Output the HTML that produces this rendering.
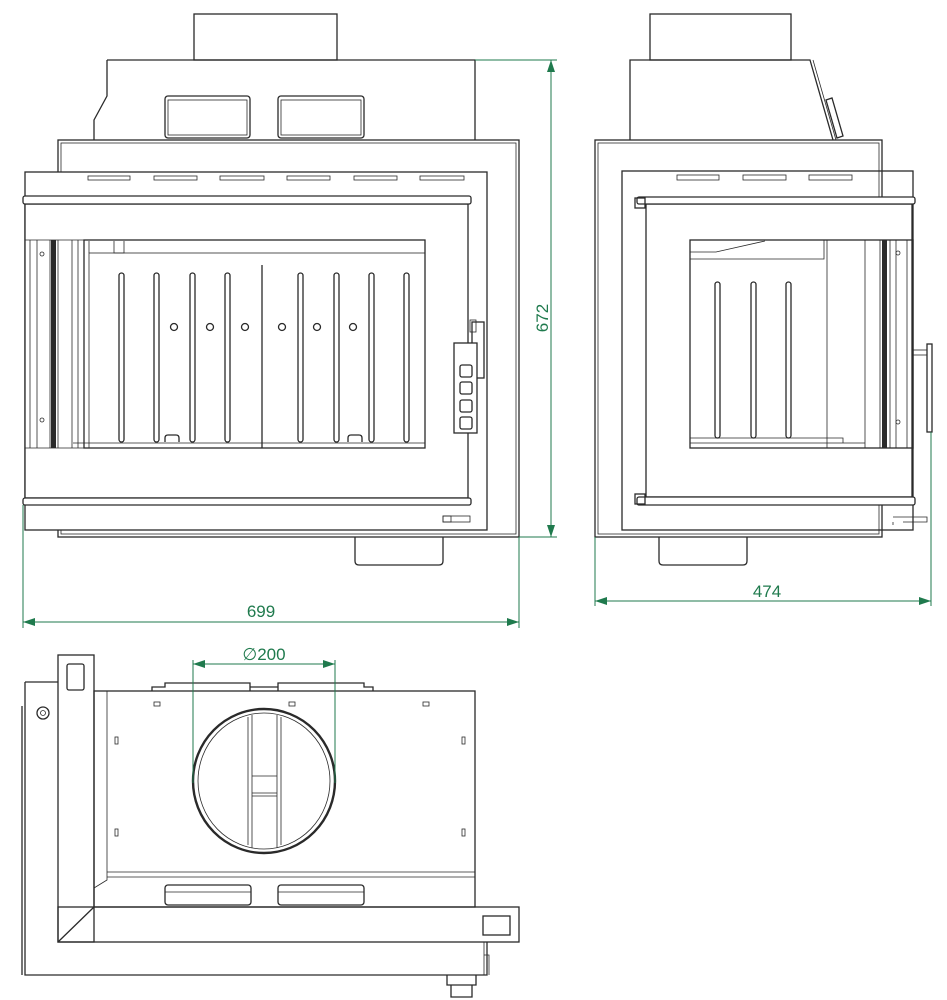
<!DOCTYPE html>
<html><head><meta charset="utf-8"><style>
html,body{margin:0;padding:0;background:#fff;}
svg{display:block;}
.l{fill:none;stroke:#2a2a2a;stroke-width:1.3;}
.w{fill:#fff;stroke:#2a2a2a;stroke-width:1.3;}
.t{fill:none;stroke:#2a2a2a;stroke-width:0.8;}
.g{fill:none;stroke:#1f7a4d;stroke-width:1;}
.gt{fill:#1f7a4d;font-family:"Liberation Sans",sans-serif;font-size:17px;}
</style></head><body>
<svg width="947" height="1000" viewBox="0 0 947 1000" xmlns="http://www.w3.org/2000/svg">
<!-- ============ FRONT VIEW ============ -->
<rect class="l" x="194" y="14" width="143" height="46"/>
<path class="l" d="M107 60 H475 V140 M107 60 V96 L94 120 V140"/>
<rect class="l" x="165" y="96" width="85" height="42" rx="3"/>
<rect class="t" x="168" y="100" width="79" height="35"/>
<rect class="l" x="278" y="96" width="86" height="42" rx="3"/>
<rect class="t" x="281" y="100" width="80" height="35"/>
<rect class="l" x="58" y="140" width="461" height="397"/>
<rect class="t" x="61" y="143" width="455" height="391"/>
<rect class="w" x="25" y="172" width="462" height="358"/>
<g class="t">
<rect x="88" y="176" width="42" height="4"/><rect x="154" y="176" width="43" height="4"/>
<rect x="220" y="176" width="44" height="4"/><rect x="287" y="176" width="43" height="4"/>
<rect x="354" y="176" width="43" height="4"/><rect x="420" y="176" width="44" height="4"/>
</g>
<rect class="w" x="25" y="204" width="443" height="294"/>
<rect class="w" x="23" y="196" width="448" height="8" rx="2"/>
<rect class="w" x="23" y="498" width="448" height="7" rx="2"/>
<rect class="l" x="84" y="240" width="341" height="208"/>
<rect class="t" x="89" y="253" width="336" height="195"/>
<path class="t" d="M89 241 V253 M114 241 V253 H124 V241 M25 240 H84 M25 448 H84 M73 443 H425"/>
<g class="t">
<line x1="30" y1="240" x2="30" y2="448"/><line x1="37" y1="240" x2="37" y2="448"/>
<line x1="50" y1="240" x2="50" y2="448"/><line x1="58" y1="240" x2="58" y2="448"/>
<line x1="72" y1="240" x2="72" y2="448"/><line x1="78" y1="240" x2="78" y2="448"/>
</g>
<rect x="51" y="240" width="5" height="208" fill="#2a2a2a"/>
<circle class="t" cx="42" cy="254" r="2"/><circle class="t" cx="42" cy="420" r="2"/>
<line class="l" x1="262" y1="265" x2="262" y2="448"/>
<g class="l">
<rect x="119" y="273" width="5" height="169" rx="2.5"/><rect x="154" y="273" width="5" height="169" rx="2.5"/>
<rect x="190" y="273" width="5" height="169" rx="2.5"/><rect x="225" y="273" width="5" height="169" rx="2.5"/>
<rect x="298" y="273" width="5" height="169" rx="2.5"/><rect x="334" y="273" width="5" height="169" rx="2.5"/>
<rect x="369" y="273" width="5" height="169" rx="2.5"/><rect x="404" y="273" width="5" height="169" rx="2.5"/>
</g>
<g class="l">
<circle cx="174" cy="327" r="3.5"/><circle cx="210" cy="327" r="3.5"/><circle cx="245" cy="327" r="3.5"/>
<circle cx="282" cy="327" r="3.5"/><circle cx="317" cy="327" r="3.5"/><circle cx="353" cy="327" r="3.5"/>
<path d="M165 442 v-4 q0-3 3-3 h8 q3 0 3 3 v4 M348 442 v-4 q0-3 3-3 h8 q3 0 3 3 v4"/>
</g>
<rect class="l" x="472" y="322" width="12" height="56"/>
<rect class="t" x="470" y="320" width="6" height="12"/>
<rect class="w" x="454" y="343" width="23" height="90"/>
<g class="l">
<rect x="460" y="365" width="12" height="12" rx="2"/><rect x="460" y="382" width="12" height="12" rx="2"/>
<rect x="460" y="400" width="12" height="12" rx="2"/><rect x="460" y="417" width="12" height="12" rx="2"/>
</g>
<rect class="t" x="443" y="516" width="27" height="6"/>
<rect class="t" x="443" y="516" width="8" height="6"/>
<path class="l" d="M355 537 V561 q0 4 4 4 H439 q4 0 4-4 V537"/>
<path class="g" d="M475 60 H557 M519 537 H557 M551 60 V537 M23 505 V628 M519 537 V628 M23 622 H519"/>
<path d="M551 60 l-4 12 h8z M551 537 l-4 -12 h8z M23 622 l12 -4 v8z M519 622 l-12 -4 v8z" fill="#1f7a4d"/>
<text class="gt" x="0" y="0" transform="translate(548 318) rotate(-90)" text-anchor="middle">672</text>
<text class="gt" x="261" y="617" text-anchor="middle">699</text>

<!-- ============ SIDE VIEW ============ -->
<rect class="l" x="650" y="14" width="141" height="46"/>
<path class="l" d="M630 140 V60 H810 L833 140"/>
<path class="t" d="M813 60 L836 140"/>
<path class="l" d="M826 100 l6 -2 l11 38 l-6 2 z"/>
<rect class="l" x="595" y="140" width="287" height="397"/>
<rect class="t" x="598" y="143" width="281" height="391"/>
<rect class="l" x="622" y="171" width="291" height="359"/>
<g class="t">
<rect x="677" y="175" width="42" height="5"/><rect x="743" y="175" width="43" height="5"/><rect x="809" y="175" width="43" height="5"/>
</g>
<rect class="w" x="646" y="204" width="266" height="293"/>
<rect class="w" x="637" y="197" width="278" height="7" rx="2"/>
<rect class="w" x="637" y="497" width="278" height="8" rx="2"/>
<rect class="l" x="635" y="198" width="10" height="10"/><rect class="l" x="635" y="494" width="10" height="10"/>
<rect class="l" x="690" y="240" width="223" height="208"/>
<path class="t" d="M690 252 H716 L765 241 M690 259 H824 V240 M827 240 V448 M865 240 V448 M690 438 H843 V443 M690 443 H865"/>
<g class="t"><line x1="880" y1="240" x2="880" y2="448"/><line x1="890" y1="240" x2="890" y2="448"/><line x1="907" y1="240" x2="907" y2="448"/><line x1="896" y1="240" x2="896" y2="448"/></g>
<rect x="882" y="240" width="5" height="208" fill="#2a2a2a"/>
<circle class="t" cx="898" cy="253" r="2"/><circle class="t" cx="898" cy="422" r="2"/>
<g class="l">
<rect x="715" y="282" width="5" height="156" rx="2.5"/><rect x="751" y="282" width="5" height="156" rx="2.5"/><rect x="786" y="282" width="5" height="156" rx="2.5"/>
</g>
<rect class="l" x="927" y="344" width="5" height="88"/>
<rect class="t" x="912" y="350" width="15" height="5"/>
<path class="t" d="M893 517 H927 V522 H903 M893 522 V525"/>
<path class="l" d="M659 537 V561 q0 4 4 4 H743 q4 0 4-4 V537"/>
<path class="g" d="M595 537 V606 M931 432 V606 M595 601 H931"/>
<path d="M595 601 l12 -4 v8z M931 601 l-12 -4 v8z" fill="#1f7a4d"/>
<text class="gt" x="767" y="597" text-anchor="middle">474</text>

<!-- ============ TOP VIEW ============ -->
<path class="l" d="M25 682 H58 M25 682 V975 H487 V942 M22 706 V975"/>
<circle class="l" cx="43" cy="713" r="6"/><circle class="t" cx="43" cy="713" r="2.5"/>
<rect class="l" x="58" y="655" width="36" height="287"/>
<rect class="l" x="67" y="664" width="17" height="26" rx="2"/>
<path class="l" d="M94 907 L58 942"/>
<rect class="l" x="94" y="691" width="381" height="216"/>
<path class="t" d="M107 691 V880 L94 888 M107 872 H475 M107 877 H475"/>
<rect class="l" x="58" y="907" width="461" height="35"/>
<rect class="l" x="483" y="916" width="27" height="19"/>
<g class="l">
<path d="M152 691 v-4 h13 v-4 h85 v8 M250 687 h28 M278 691 v-8 h86 v4 h9 v4"/>
<rect x="165" y="885" width="86" height="20" rx="3"/><rect x="278" y="885" width="86" height="20" rx="3"/>
</g>
<path class="t" d="M165 892 H251 M278 892 H364"/>
<g class="t">
<rect x="154" y="702" width="6" height="4"/><rect x="289" y="702" width="6" height="4"/><rect x="423" y="702" width="6" height="4"/>
<rect x="115" y="737" width="3" height="7"/><rect x="462" y="737" width="3" height="7"/>
<rect x="115" y="829" width="3" height="7"/><rect x="462" y="829" width="3" height="7"/>
</g>
<ellipse cx="264" cy="781" rx="71" ry="72" fill="none" stroke="#2a2a2a" stroke-width="2.4"/>
<ellipse class="t" cx="264" cy="781" rx="66" ry="68"/>
<path class="t" d="M248 717 V845 M252 715 V848 M277 715 V848 M281 717 V845 M252 776 H277 M252 793 H277 M252 796 H277"/>
<path class="t" d="M484 942 V975 M484 955 H489 V975"/>
<path class="l" d="M447 975 V985 H476 V975 M451 985 V997 H472 V985"/>
<path class="g" d="M193 660 V783 M335 660 V783 M193 664 H335"/>
<path d="M193 664 l12 -4 v8z M335 664 l-12 -4 v8z" fill="#1f7a4d"/>
<text class="gt" x="264" y="660" text-anchor="middle">∅200</text>
</svg>
</body></html>
